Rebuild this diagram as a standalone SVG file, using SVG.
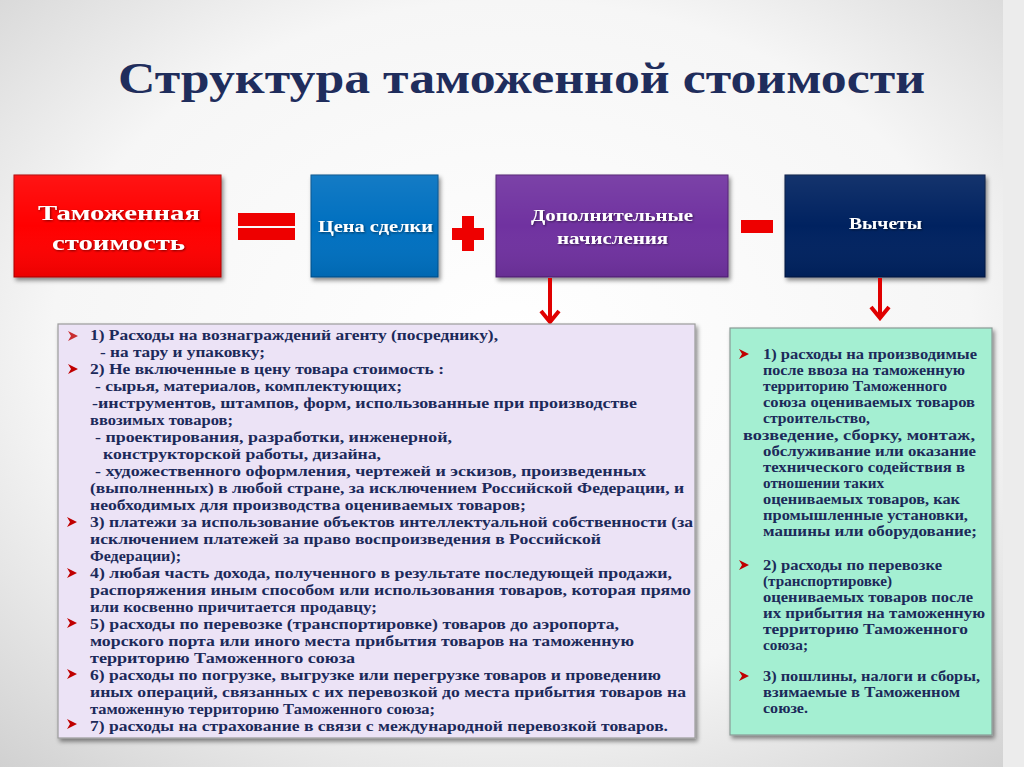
<svg xmlns="http://www.w3.org/2000/svg" width="1024" height="767" viewBox="0 0 1024 767">
<defs>
  <radialGradient id="bg" cx="0.5" cy="0.45" r="0.75">
    <stop offset="0" stop-color="#ffffff"/>
    <stop offset="0.6" stop-color="#f6f6f6"/>
    <stop offset="1" stop-color="#d0d0d0"/>
  </radialGradient>
  <linearGradient id="gloss" x1="0" y1="0" x2="0" y2="1">
    <stop offset="0" stop-color="#ffffff" stop-opacity="0.08"/>
    <stop offset="0.5" stop-color="#ffffff" stop-opacity="0"/>
    <stop offset="1" stop-color="#000000" stop-opacity="0.08"/>
  </linearGradient>
  <filter id="shadow" x="-10%" y="-10%" width="130%" height="140%">
    <feDropShadow dx="2" dy="3" stdDeviation="2" flood-color="#000" flood-opacity="0.45"/>
  </filter>
  <filter id="tshadow" x="-5%" y="-20%" width="110%" height="150%">
    <feDropShadow dx="1" dy="1" stdDeviation="0.8" flood-color="#000" flood-opacity="0.5"/>
  </filter>
  <marker id="vhead" viewBox="0 0 16 22" refX="13" refY="11" markerWidth="16" markerHeight="22" markerUnits="userSpaceOnUse" orient="auto">
    <path d="M2,2 L13,11 L2,20" fill="none" stroke="#e00000" stroke-width="4" stroke-linejoin="miter"/>
  </marker>
  <polygon id="bul" points="0,-5 10,0 0,5 3,0" fill="#c00000"/>
  <style>
    .title{font-family:"Liberation Serif","DejaVu Serif",serif;font-weight:bold;font-size:44px;fill:#1f2d5c}
    .btxt{font-family:"Liberation Serif","DejaVu Serif",serif;font-weight:bold;fill:#ffffff;text-anchor:start}
    .lt{font-family:"Liberation Serif","DejaVu Serif",serif;font-weight:bold;font-size:14.5px;fill:#1c2a5a}
    .op{fill:#ee0000}
  </style>
</defs>

<rect x="0" y="0" width="1024" height="767" fill="url(#bg)"/>
<rect x="1003" y="0" width="21" height="767" fill="#ececec"/>

<text class="title" x="118" y="93" textLength="807" lengthAdjust="spacingAndGlyphs">Структура таможенной стоимости</text>

<g id="customs-value">
  <rect x="14" y="175" width="207" height="102" fill="#ff0000" stroke="#b00000" stroke-width="1" filter="url(#shadow)"/>
  <rect x="14" y="175" width="207" height="102" fill="url(#gloss)"/>
  <text class="btxt" x="38" y="220" font-size="22" textLength="162" lengthAdjust="spacingAndGlyphs" filter="url(#tshadow)">Таможенная</text>
  <text class="btxt" x="52" y="250" font-size="22" textLength="133" lengthAdjust="spacingAndGlyphs" filter="url(#tshadow)">стоимость</text>
</g>

<g id="transaction-price">
  <rect x="311" y="175" width="127" height="102" fill="#0070c0" stroke="#004f8a" stroke-width="1" filter="url(#shadow)"/>
  <rect x="311" y="175" width="127" height="102" fill="url(#gloss)"/>
  <text class="btxt" x="318" y="232" font-size="16" textLength="115" lengthAdjust="spacingAndGlyphs" filter="url(#tshadow)">Цена сделки</text>
</g>

<g id="additional-charges">
  <rect x="496" y="175" width="232" height="102" fill="#7030a0" stroke="#4f2070" stroke-width="1" filter="url(#shadow)"/>
  <rect x="496" y="175" width="232" height="102" fill="url(#gloss)"/>
  <text class="btxt" x="531" y="221" font-size="16" textLength="162" lengthAdjust="spacingAndGlyphs" filter="url(#tshadow)">Дополнительные</text>
  <text class="btxt" x="557" y="244" font-size="16" textLength="111" lengthAdjust="spacingAndGlyphs" filter="url(#tshadow)">начисления</text>
</g>

<g id="deductions">
  <rect x="785" y="175" width="200" height="102" fill="#002060" stroke="#001540" stroke-width="1" filter="url(#shadow)"/>
  <rect x="785" y="175" width="200" height="102" fill="url(#gloss)"/>
  <text class="btxt" x="849" y="229" font-size="16" textLength="73" lengthAdjust="spacingAndGlyphs" filter="url(#tshadow)">Вычеты</text>
</g>

<g id="operators">
  <rect class="op" x="238" y="213" width="57" height="13"/>
  <rect class="op" x="238" y="228" width="57" height="12"/>
  <rect class="op" x="462" y="216" width="12" height="35"/>
  <rect class="op" x="452" y="228" width="32" height="12"/>
  <rect class="op" x="741" y="220" width="32" height="13"/>
</g>

<g id="connectors">
  <line x1="550" y1="278" x2="550" y2="322" stroke="#e00000" stroke-width="4" marker-end="url(#vhead)"/>
  <line x1="880" y1="278" x2="880" y2="318" stroke="#e00000" stroke-width="4" marker-end="url(#vhead)"/>
</g>

<g id="additions-list">
  <rect x="58" y="324" width="637" height="414" fill="#ece3f6" stroke="#9c9c9c" stroke-width="1.2" filter="url(#shadow)"/>
  <use href="#bul" x="68" y="336" fill-opacity="0.8"/>
  <use href="#bul" x="68" y="369"/>
  <use href="#bul" x="67" y="522"/>
  <use href="#bul" x="67" y="573"/>
  <use href="#bul" x="67" y="623"/>
  <use href="#bul" x="67" y="674"/>
  <use href="#bul" x="67" y="724"/>
  <g class="lt">
    <text x="90" y="340" textLength="408" lengthAdjust="spacingAndGlyphs">1) Расходы на вознаграждений агенту (посреднику),</text>
    <text x="100" y="357" textLength="165" lengthAdjust="spacingAndGlyphs">- на тару и упаковку;</text>
    <text x="90" y="374" textLength="354" lengthAdjust="spacingAndGlyphs">2)  Не включенные в цену товара стоимость :</text>
    <text x="95" y="391" textLength="307" lengthAdjust="spacingAndGlyphs">- сырья, материалов, комплектующих;</text>
    <text x="92" y="408" textLength="545" lengthAdjust="spacingAndGlyphs">-инструментов, штампов, форм,  использованные при производстве</text>
    <text x="90" y="425" textLength="143" lengthAdjust="spacingAndGlyphs">ввозимых товаров;</text>
    <text x="95" y="442" textLength="357" lengthAdjust="spacingAndGlyphs">- проектирования, разработки, инженерной,</text>
    <text x="103" y="459" textLength="278" lengthAdjust="spacingAndGlyphs">конструкторской работы, дизайна,</text>
    <text x="95" y="476" textLength="551" lengthAdjust="spacingAndGlyphs">- художественного оформления, чертежей и эскизов, произведенных</text>
    <text x="90" y="493" textLength="594" lengthAdjust="spacingAndGlyphs">(выполненных) в любой стране, за исключением Российской Федерации, и</text>
    <text x="90" y="510" textLength="436" lengthAdjust="spacingAndGlyphs">необходимых для производства оцениваемых товаров;</text>
    <text x="90" y="527" textLength="603" lengthAdjust="spacingAndGlyphs">3) платежи за использование объектов интеллектуальной собственности (за</text>
    <text x="90" y="544" textLength="511" lengthAdjust="spacingAndGlyphs">исключением платежей за право воспроизведения в Российской</text>
    <text x="90" y="561" textLength="91" lengthAdjust="spacingAndGlyphs">Федерации);</text>
    <text x="90" y="578" textLength="582" lengthAdjust="spacingAndGlyphs">4) любая часть дохода, полученного в результате последующей продажи,</text>
    <text x="90" y="595" textLength="601" lengthAdjust="spacingAndGlyphs">распоряжения иным способом или использования товаров, которая прямо</text>
    <text x="90" y="612" textLength="287" lengthAdjust="spacingAndGlyphs">или косвенно причитается продавцу;</text>
    <text x="90" y="629" textLength="529" lengthAdjust="spacingAndGlyphs">5) расходы по перевозке (транспортировке) товаров до аэропорта,</text>
    <text x="90" y="646" textLength="544" lengthAdjust="spacingAndGlyphs">морского порта или иного места прибытия товаров на таможенную</text>
    <text x="90" y="663" textLength="265" lengthAdjust="spacingAndGlyphs">территорию Таможенного союза</text>
    <text x="90" y="680" textLength="571" lengthAdjust="spacingAndGlyphs">6) расходы по погрузке, выгрузке или перегрузке товаров и проведению</text>
    <text x="90" y="697" textLength="596" lengthAdjust="spacingAndGlyphs">иных операций, связанных с их перевозкой  до места прибытия товаров на</text>
    <text x="90" y="714" textLength="345" lengthAdjust="spacingAndGlyphs">таможенную территорию  Таможенного союза;</text>
    <text x="90" y="731" textLength="578" lengthAdjust="spacingAndGlyphs">7) расходы на страхование в связи с международной перевозкой товаров.</text>
  </g>
</g>

<g id="deductions-list">
  <rect x="730" y="328" width="262" height="407" fill="#a4efd2" stroke="#8a9a96" stroke-width="1.2" filter="url(#shadow)"/>
  <use href="#bul" x="739" y="354"/>
  <use href="#bul" x="739" y="565"/>
  <use href="#bul" x="739" y="676"/>
  <g class="lt">
    <text x="763" y="359" textLength="214" lengthAdjust="spacingAndGlyphs">1) расходы на производимые</text>
    <text x="763" y="375" textLength="202" lengthAdjust="spacingAndGlyphs">после ввоза на таможенную</text>
    <text x="763" y="391" textLength="184" lengthAdjust="spacingAndGlyphs">территорию Таможенного</text>
    <text x="763" y="407" textLength="212" lengthAdjust="spacingAndGlyphs">союза оцениваемых товаров</text>
    <text x="763" y="423" textLength="107" lengthAdjust="spacingAndGlyphs">строительство,</text>
    <text x="743" y="440" textLength="232" lengthAdjust="spacingAndGlyphs">возведение,     сборку, монтаж,</text>
    <text x="763" y="456" textLength="213" lengthAdjust="spacingAndGlyphs">обслуживание или оказание</text>
    <text x="763" y="472" textLength="202" lengthAdjust="spacingAndGlyphs">технического содействия в</text>
    <text x="763" y="488" textLength="121" lengthAdjust="spacingAndGlyphs">отношении таких</text>
    <text x="763" y="504" textLength="197" lengthAdjust="spacingAndGlyphs">оцениваемых товаров, как</text>
    <text x="763" y="520" textLength="205" lengthAdjust="spacingAndGlyphs">промышленные установки,</text>
    <text x="763" y="536" textLength="214" lengthAdjust="spacingAndGlyphs">машины или оборудование;</text>
    <text x="763" y="570" textLength="179" lengthAdjust="spacingAndGlyphs">2) расходы по перевозке</text>
    <text x="763" y="586" textLength="129" lengthAdjust="spacingAndGlyphs">(транспортировке)</text>
    <text x="763" y="602" textLength="210" lengthAdjust="spacingAndGlyphs">оцениваемых товаров после</text>
    <text x="763" y="618" textLength="222" lengthAdjust="spacingAndGlyphs">их прибытия на таможенную</text>
    <text x="763" y="634" textLength="205" lengthAdjust="spacingAndGlyphs">территорию  Таможенного</text>
    <text x="763" y="650" textLength="45" lengthAdjust="spacingAndGlyphs">союза;</text>
    <text x="763" y="681" textLength="217" lengthAdjust="spacingAndGlyphs">3) пошлины, налоги и сборы,</text>
    <text x="763" y="697" textLength="197" lengthAdjust="spacingAndGlyphs">взимаемые в  Таможенном</text>
    <text x="763" y="713" textLength="45" lengthAdjust="spacingAndGlyphs">союзе.</text>
  </g>
</g>
</svg>
